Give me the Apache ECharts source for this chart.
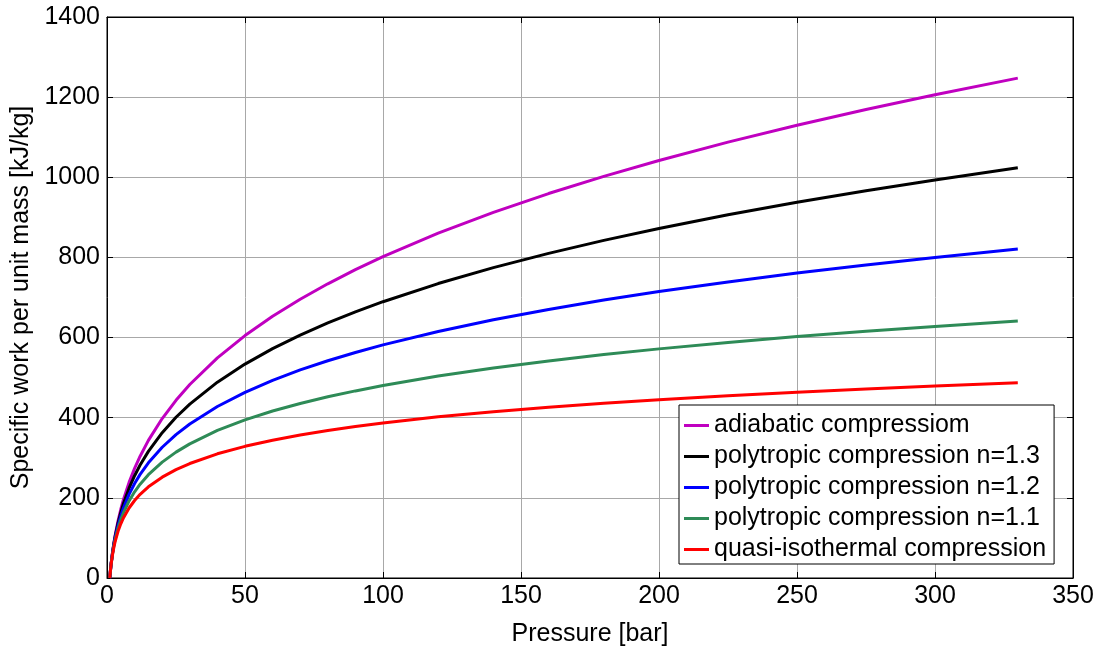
<!DOCTYPE html>
<html>
<head>
<meta charset="utf-8">
<script src="https://cdn.jsdelivr.net/npm/echarts@6/dist/echarts.min.js"></script>
<style>
html,body{margin:0;padding:0;background:#fff;}
#chart{width:1102px;height:646px;}
</style>
</head>
<body>
<div id="chart"></div>
<script>
// Pressure [bar]
const pressure = [1, 1.25, 1.5, 2, 2.5, 3, 4, 5, 6, 8, 10, 12, 15, 20, 25, 30, 40, 50, 60, 70, 80, 90, 100, 120, 140, 160, 180, 200, 225, 250, 275, 300, 330];
// Specific work [kJ/kg]
const adiabatic = [0, 19.1, 36.1, 64.4, 88.2, 108.4, 142.9, 171.6, 196.5, 238.6, 273.6, 303.9, 343.4, 397.9, 443.5, 482.9, 549.5, 605.0, 653.1, 695.7, 734.2, 769.6, 801.9, 860.5, 912.5, 959.4, 1002.3, 1041.9, 1087.8, 1130.0, 1169.3, 1206.2, 1247.5];
const poly13 = [0, 18.9, 35.7, 63.1, 86.0, 105.1, 137.2, 163.7, 186.4, 224.2, 255.3, 281.9, 316.0, 362.7, 401.1, 434.0, 488.7, 533.8, 572.4, 606.3, 636.6, 664.1, 689.5, 734.8, 774.6, 810.2, 842.6, 872.3, 906.7, 937.6, 966.5, 993.3, 1023.7];
const poly12 = [0, 18.8, 35.2, 61.7, 83.6, 101.3, 130.8, 155.1, 175.4, 208.8, 235.8, 258.6, 287.5, 326.3, 357.8, 384.4, 428.0, 463.4, 493.2, 519.2, 542.2, 562.8, 581.8, 615.3, 644.5, 670.3, 693.6, 714.8, 738.8, 761.0, 781.3, 800.0, 820.9];
const poly11 = [0, 18.6, 34.7, 60.1, 81.1, 97.0, 124.1, 145.6, 163.5, 192.3, 215.2, 234.2, 257.9, 289.2, 314.1, 334.8, 368.2, 394.6, 416.7, 435.6, 452.2, 466.9, 480.4, 503.9, 524.0, 541.7, 557.5, 571.8, 587.9, 602.4, 615.7, 627.9, 641.4];
const isothermal = [0, 18.7, 34.1, 58.2, 77.0, 92.3, 116.4, 135.2, 150.5, 174.7, 193.4, 208.7, 227.5, 251.6, 270.4, 285.7, 309.9, 328.6, 343.9, 356.9, 368.1, 378.0, 386.8, 402.2, 415.1, 426.3, 436.2, 445.1, 455.0, 463.8, 471.8, 479.1, 487.1];

const seriesNames = ['adiabatic compressiom', 'polytropic compression n=1.3', 'polytropic compression n=1.2', 'polytropic compression n=1.1', 'quasi-isothermal compression'];
const seriesValues = [adiabatic, poly13, poly12, poly11, isothermal];
const seriesColors = ['#c000c0', '#000000', '#0000ff', '#2e8b57', '#ff0000'];

const FONT = '"Liberation Sans", Arial, Helvetica, sans-serif';
const FS = 25;

const chart = echarts.init(document.getElementById('chart'), null, {renderer: 'canvas'});

const baseAxis = {
  axisLine: {show: true, onZero: false, lineStyle: {color: '#000', width: 1}},
  axisTick: {show: true, inside: true, length: 6, lineStyle: {color: '#000', width: 1}},
  axisLabel: {show: false},
  splitLine: {show: false}
};

chart.setOption({
  animation: false,
  backgroundColor: '#fff',
  grid: {left: 107, right: 29, top: 17, bottom: 68, containLabel: false, outerBoundsMode: 'none', show: true, borderColor: '#000', borderWidth: 1, backgroundColor: '#fff'},
  legend: {
    orient: 'vertical',
    left: 679, top: 405,
    data: seriesNames,
    backgroundColor: '#fff',
    borderColor: '#000', borderWidth: 1,
    padding: [8, 8, 2, 5],
    itemGap: 6,
    itemWidth: 25, itemHeight: 3,
    icon: 'rect',
    textStyle: {color: '#000', fontSize: FS, fontFamily: FONT, lineHeight: 25}
  },
  xAxis: [
    Object.assign({}, baseAxis, {
      type: 'value', min: 0, max: 350, interval: 50, position: 'bottom',
      name: 'Pressure [bar]', nameLocation: 'middle', nameGap: 44,
      nameTextStyle: {color: '#000', fontSize: FS, fontFamily: FONT},
      axisLabel: {show: true, color: '#000', fontSize: FS, fontFamily: FONT, margin: 6, formatter: v => String(v)},
      splitLine: {show: true, lineStyle: {color: '#a8a8a8', width: 1}}
    }),
    Object.assign({}, baseAxis, {
      type: 'value', min: 0, max: 350, interval: 50, position: 'top'
    })
  ],
  yAxis: [
    Object.assign({}, baseAxis, {
      type: 'value', min: 0, max: 1400, interval: 200, position: 'left',
      name: 'Specific work per unit mass [kJ/kg]', nameLocation: 'middle', nameGap: 72,
      nameTextStyle: {color: '#000', fontSize: FS, fontFamily: FONT},
      axisLabel: {show: true, color: '#000', fontSize: FS, fontFamily: FONT, margin: 7, formatter: v => String(v)},
      splitLine: {show: true, lineStyle: {color: '#a8a8a8', width: 1}}
    }),
    Object.assign({}, baseAxis, {
      type: 'value', min: 0, max: 1400, interval: 200, position: 'right'
    })
  ],
  series: seriesNames.map((name, i) => ({
    name: name,
    type: 'line',
    xAxisIndex: 0, yAxisIndex: 0,
    data: pressure.map((p, j) => [p, seriesValues[i][j]]),
    showSymbol: false,
    symbol: 'none',
    smooth: false,
    lineStyle: {color: seriesColors[i], width: 3},
    itemStyle: {color: seriesColors[i]},
    emphasis: {disabled: true}
  }))
});
</script>
</body>
</html>
